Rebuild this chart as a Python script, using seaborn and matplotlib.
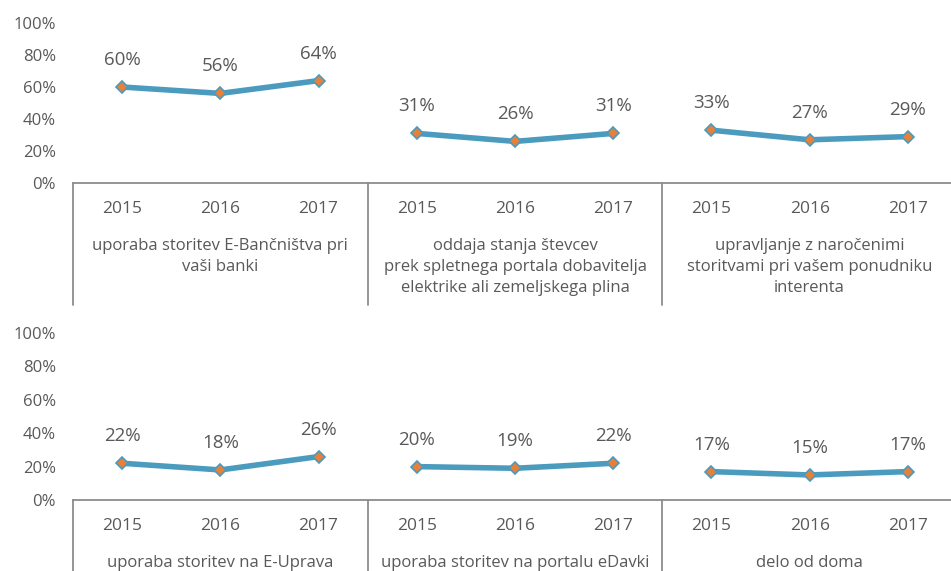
import numpy as np
import pandas as pd
import matplotlib
matplotlib.use("Agg")
import matplotlib.pyplot as plt
import seaborn as sns

# Données
years = ["2015", "2016", "2017"]

top_categories = [
    "uporaba storitev E-Bančništva pri\nvaši banki",
    "oddaja stanja števcev\nprek spletnega portala dobavitelja\nelektrike ali zemeljskega plina",
    "upravljanje z naročenimi\nstoritvami pri vašem ponudniku\ninterenta",
]
top_values = [
    [60, 56, 64],
    [31, 26, 31],
    [33, 27, 29],
]

bottom_categories = [
    "uporaba storitev na E-Uprava",
    "uporaba storitev na portalu eDavki",
    "delo od doma",
]
bottom_values = [
    [22, 18, 26],
    [20, 19, 22],
    [17, 15, 17],
]

y_ticks = [0, 20, 40, 60, 80, 100]

# Style
sns.set_theme(style="white")
plt.rcParams['font.family'] = ['Open Sans', 'DejaVu Sans']

TXT = '#595959'
LINE = '#4A9BBE'
MARK = '#E8803A'
GRID = '#8C8C8C'

W, H = 951, 571
fig = plt.figure(figsize=(W / 100, H / 100), dpi=100)


def px2pt(p):
    return p * 72 / 100


def panel(top_px, bottom_px, categories, values, sep_depth_px):
    # axes en pixels -> fraction de la figure
    left_px, right_px = 73, 957
    ax = fig.add_axes([left_px / W, 1 - bottom_px / H,
                       (right_px - left_px) / W, (bottom_px - top_px) / H])

    rows = []
    for g, (cat, vals) in enumerate(zip(categories, values)):
        for i, (yr, v) in enumerate(zip(years, vals)):
            rows.append({'grp': g, 'x': g * 3 + i + 0.5, 'year': yr, 'val': v})
    df = pd.DataFrame(rows)

    sns.lineplot(data=df, x='x', y='val', units='grp', estimator=None,
                 color=LINE, linewidth=4, marker='D', markersize=6.5,
                 markerfacecolor=MARK, markeredgecolor=LINE,
                 markeredgewidth=1.2, ax=ax, legend=False)

    # Étiquettes de valeurs
    for _, r in df.iterrows():
        ax.annotate(f"{int(r['val'])}%", (r['x'], r['val']),
                    xytext=(0, px2pt(27)), textcoords='offset points',
                    ha='center', va='center', fontsize=13.5, color=TXT)

    ax.set_xlim(0, 9)
    ax.set_ylim(0, 100)
    ax.set_yticks(y_ticks)
    ax.set_yticklabels([f"{t}%" for t in y_ticks], fontsize=12, color=TXT)
    ax.tick_params(axis='y', length=0, pad=px2pt(17))
    ax.set_xticks(df['x'])
    ax.set_xticklabels(df['year'], fontsize=12.5, color=TXT)
    ax.tick_params(axis='x', length=0, pad=px2pt(18))
    ax.set_xlabel('')
    ax.set_ylabel('')

    for s in ['top', 'right', 'left']:
        ax.spines[s].set_visible(False)
    ax.spines['bottom'].set_color(GRID)
    ax.spines['bottom'].set_linewidth(1.3)

    # Séparateurs verticaux des catégories
    trans = ax.get_xaxis_transform()
    depth = sep_depth_px / (bottom_px - top_px)
    for xs in [0, 3, 6, 9]:
        ax.plot([xs, xs], [0, -depth], transform=trans, color=GRID,
                linewidth=1.3, clip_on=False)

    # Libellés des catégories
    for g, cat in enumerate(categories):
        ax.annotate(cat, (g * 3 + 1.5, 0), xycoords=trans,
                    xytext=(0, -px2pt(55)), textcoords='offset points',
                    ha='center', va='top', fontsize=12, color=TXT,
                    linespacing=1.42)
    return ax


panel(23, 183, top_categories, top_values, 122)
panel(333, 500, bottom_categories, bottom_values, 80)

fig.savefig('out.png', dpi=100)
